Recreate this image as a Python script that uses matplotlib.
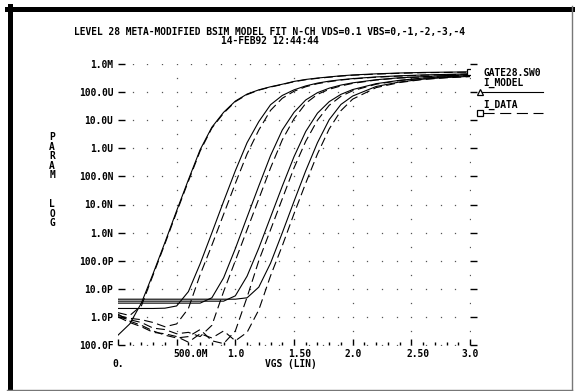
import numpy as np
import matplotlib
matplotlib.use("Agg")
import matplotlib.pyplot as plt
from matplotlib.lines import Line2D
from matplotlib.transforms import ScaledTranslation

W, H = 576, 391

TITLE = "LEVEL 28 META-MODIFIED BSIM MODEL FIT N-CH VDS=0.1 VBS=0,-1,-2,-3,-4"
DATE = "14-FEB92 12:44:44"

vgs = [0.0, 0.1, 0.2, 0.3, 0.4, 0.5, 0.6, 0.7, 0.8, 0.9, 1.0,
       1.1, 1.2, 1.3, 1.4, 1.5, 1.6, 1.7, 1.8, 1.9, 2.0,
       2.2, 2.4, 2.6, 2.8, 3.0]

# log10 of drain current (A), model curves VBS = 0, -1, -2, -3, -4
model_vbs0 = [-12.65, -12.25, -11.5, -10.45, -9.35, -8.22, -7.12, -6.05, -5.25, -4.72, -4.32,
              -4.07, -3.92, -3.81, -3.72, -3.62, -3.55, -3.5, -3.46, -3.42, -3.39,
              -3.35, -3.32, -3.30, -3.29, -3.28]
model_vbs1 = [-11.70, -11.70, -11.70, -11.70, -11.69, -11.61, -11.10, -10.11, -9.01, -7.89, -6.80,
              -5.80, -5.05, -4.45, -4.12, -3.92, -3.78, -3.68, -3.61, -3.56, -3.52,
              -3.46, -3.42, -3.39, -3.37, -3.35]
model_vbs2 = [-11.51, -11.51, -11.51, -11.51, -11.51, -11.51, -11.51, -11.51, -11.32, -10.61, -9.57,
              -8.45, -7.34, -6.26, -5.35, -4.72, -4.28, -4.02, -3.86, -3.75, -3.67,
              -3.56, -3.49, -3.45, -3.41, -3.38]
model_vbs3 = [-11.44, -11.44, -11.44, -11.44, -11.44, -11.44, -11.44, -11.44, -11.44, -11.44, -11.25,
              -10.55, -9.55, -8.45, -7.35, -6.3, -5.4, -4.75, -4.34, -4.08, -3.91,
              -3.70, -3.58, -3.50, -3.45, -3.41]
model_vbs4 = [-11.37, -11.37, -11.37, -11.37, -11.37, -11.37, -11.37, -11.37, -11.37, -11.37, -11.37,
              -11.32, -10.94, -10.09, -9.01, -7.89, -6.80, -5.80, -4.98, -4.44, -4.14,
              -3.80, -3.64, -3.54, -3.48, -3.44]

# measured data
data_vbs0 = [-11.85, -11.95, -11.6, -10.5, -9.4, -8.27, -7.17, -6.1, -5.28, -4.75, -4.34,
             -4.09, -3.93, -3.82, -3.73, -3.63, -3.56, -3.51, -3.47, -3.43, -3.40,
             -3.36, -3.33, -3.31, -3.30, -3.29]
data_vbs1 = [-11.95, -12.05, -12.1, -12.2, -12.35, -12.25, -11.7, -10.5, -9.45, -8.35, -7.25,
             -6.2, -5.35, -4.65, -4.22, -3.97, -3.81, -3.70, -3.63, -3.57, -3.53,
             -3.47, -3.43, -3.40, -3.38, -3.36]
data_vbs2 = [-12.0, -12.1, -12.2, -12.4, -12.45, -12.6, -12.55, -12.7, -12.3, -11.1, -10.0,
             -8.9, -7.8, -6.7, -5.7, -4.95, -4.4, -4.08, -3.9, -3.78, -3.69,
             -3.57, -3.50, -3.46, -3.42, -3.39]
data_vbs3 = [-11.9, -12.15, -12.3, -12.5, -12.65, -12.75, -12.7, -12.45, -12.85, -12.95, -12.5,
             -11.3, -10.0, -8.9, -7.8, -6.7, -5.75, -5.0, -4.47, -4.15, -3.95,
             -3.72, -3.59, -3.51, -3.46, -3.42]
data_vbs4 = [-12.0, -12.2, -12.35, -12.55, -12.6, -12.7, -12.9, -12.6, -12.75, -12.5, -12.85,
             -12.55, -11.75, -10.54, -9.47, -8.33, -7.24, -6.2, -5.31, -4.66, -4.25,
             -3.84, -3.66, -3.55, -3.49, -3.45]

y_ticks = [1e-13, 1e-12, 1e-11, 1e-10, 1e-9, 1e-8, 1e-7, 1e-6, 1e-5, 1e-4, 1e-3]
y_labels = ["100.0F", "1.0P", "10.0P", "100.0P", "1.0N", "10.0N",
            "100.0N", "1.0U", "10.0U", "100.0U", "1.0M"]
x_ticks = [0.0, 0.5, 1.0, 1.5, 2.0, 2.5, 3.0]
x_labels = ["0.", "500.0M", "1.0", "1.50", "2.0", "2.50", "3.0"]

FONT = dict(family="DejaVu Sans Mono", weight="bold", size=6.9)


def fx(x):
    return x / W


def fy(y):
    return 1 - y / H


fig = plt.figure(figsize=(W / 100, H / 100), dpi=100)
ax = fig.add_axes([fx(118), fy(345), fx(470) - fx(118), fy(64) - fy(345)])
ax.set_yscale("log")
ax.set_xlim(0, 3.0)
ax.set_ylim(1e-13, 1e-3)
for s in ax.spines.values():
    s.set_visible(False)

# dotted grid
row_x = np.arange(1, 24) * 0.125
for ty in y_ticks:
    ax.plot(row_x, [ty] * len(row_x), ls="none", marker="s", ms=0.9,
            mec="none", mfc="#555555")
col_y = [10.0 ** (e + 0.5) for e in range(-13, -3)]
for tx in x_ticks[1:]:
    ax.plot([tx] * len(col_y), col_y, ls="none", marker="s", ms=0.9,
            mec="none", mfc="#555555")

v = np.array(vgs)
for curve in [model_vbs0, model_vbs1, model_vbs2, model_vbs3, model_vbs4]:
    ax.plot(v, 10.0 ** np.array(curve), color="black", lw=0.8)
for curve in [data_vbs0, data_vbs1, data_vbs2, data_vbs3, data_vbs4]:
    ax.plot(v, 10.0 ** np.array(curve), color="black", lw=0.8,
            ls=(0, (8, 4)))
ax.plot(v[-1], 10.0 ** data_vbs0[-1], marker="s", ms=4, mfc="white",
        mec="black", mew=0.9)

ax.yaxis.set_minor_locator(matplotlib.ticker.NullLocator())
ax.set_yticks(y_ticks)
ax.set_yticklabels(y_labels, **FONT)
ax.tick_params(axis="y", direction="in", length=5, width=1, pad=3.5, left=True)

sec = ax.secondary_yaxis("right")
sec.set_yticks(y_ticks)
sec.yaxis.set_minor_locator(matplotlib.ticker.NullLocator())
sec.set_yticklabels([])
sec.tick_params(direction="out", length=5, width=1)
for s in sec.spines.values():
    s.set_visible(False)

ax.set_xticks(x_ticks)
ax.set_xticks(np.arange(0, 3.01, 0.1), minor=True)
ax.set_xticklabels(x_labels, **FONT)
ax.tick_params(axis="x", which="major", direction="in", length=4.5, width=1, pad=3)
ax.tick_params(axis="x", which="minor", direction="in", length=2, width=1)

shifts = {"0.": (0, -10), "500.0M": (14, 0), "1.50": (6, 0), "2.50": (7, 0)}
for lab in ax.get_xticklabels():
    dx, dy = shifts.get(lab.get_text(), (0, 0))
    lab.set_transform(lab.get_transform() + ScaledTranslation(dx / 100, dy / 100, fig.dpi_scale_trans))

fig.text(fx(291), fy(364), "VGS (LIN)", ha="center", va="center", **FONT)
fig.text(fx(270), fy(32), TITLE, ha="center", va="center", **FONT)
fig.text(fx(270), fy(41), DATE, ha="center", va="center", **FONT)

for i, ch in enumerate("PARAM  LOG"):
    if ch != " ":
        fig.text(fx(52), fy(137 + i * 9.6), ch, ha="center", va="center", **FONT)

# legend
fig.text(fx(483), fy(73), "GATE28.SW0", ha="left", va="center", **FONT)
fig.text(fx(483), fy(83), "I_MODEL", ha="left", va="center", **FONT)
fig.add_artist(Line2D([fx(480), fx(543)], [fy(92), fy(92)], color="black", lw=0.8))
fig.add_artist(Line2D([fx(480)], [fy(92)], marker="^", ms=4, mfc="white",
                      mec="black", mew=0.9))
fig.text(fx(483), fy(105), "I_DATA", ha="left", va="center", **FONT)
fig.add_artist(Line2D([fx(483), fx(543)], [fy(113), fy(113)], color="black", lw=0.8,
                      ls=(0, (10, 5))))
fig.add_artist(Line2D([fx(480)], [fy(113)], marker="s", ms=4, mfc="white",
                      mec="black", mew=0.9))

# page frame
fig.add_artist(Line2D([fx(9.5), fx(9.5)], [fy(6), fy(390)], color="black", lw=3.6))
fig.add_artist(Line2D([fx(7), fx(572)], [fy(8.5), fy(8.5)], color="black", lw=3.6))
fig.add_artist(Line2D([fx(572), fx(572)], [fy(6), fy(390)], color="#777777", lw=1))
fig.add_artist(Line2D([fx(7), fx(572)], [fy(390), fy(390)], color="#777777", lw=1))

fig.savefig("out.png", dpi=100)
